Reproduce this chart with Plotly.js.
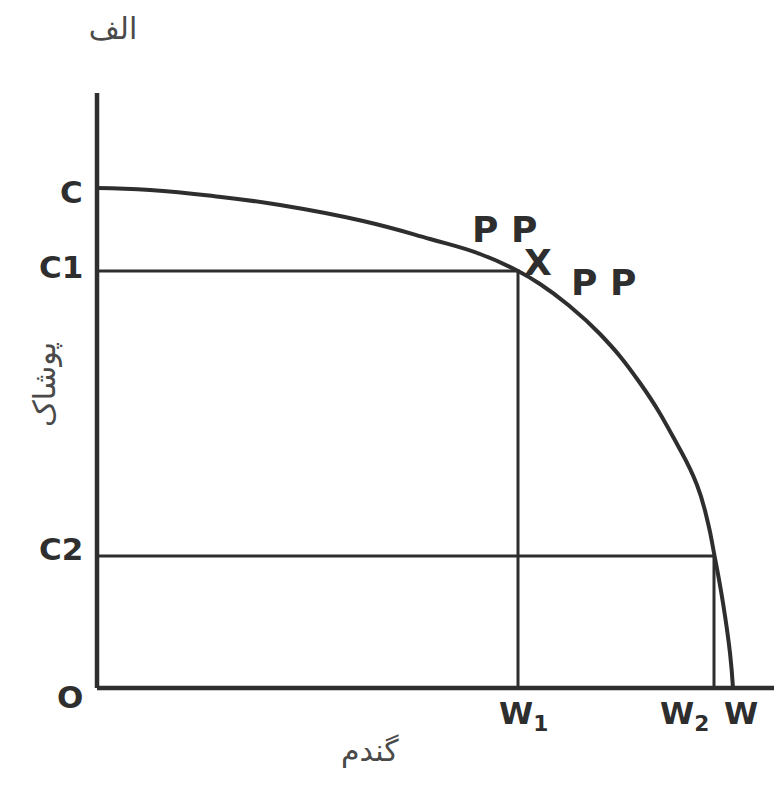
<!DOCTYPE html>
<html>
<head>
<meta charset="utf-8">
<script src="https://cdn.plot.ly/plotly-3.0.1.min.js"></script>
<style>html,body{margin:0;padding:0;background:#fff;}#chart{width:774px;height:786px;}</style>
</head>
<body>
<div id="chart"></div>
<script>
// Production possibility frontier (wheat on x, clothing on y)
const curveX = [0, 53, 116, 183, 266, 333, 383, 421, 443, 470, 503, 543, 580, 600, 611, 617, 626, 633, 636];
const curveY = [500, 498, 492, 483, 467, 449, 434, 417, 404, 384, 354, 305, 244, 203, 165, 135, 85, 35, 0];

const yTickVals = [500, 417, 132, 0];
const yTickLabels = ['C', 'C1', 'C2', 'O'];
const yTickShift = [-4, 4, 7, -9];
const xTickVals = [421, 617, 636];
const xTickLabels = ['W<sub>1</sub>', 'W<sub>2</sub>', 'W'];
const xTickShift = [-21, -56, -11];

const point1 = {x: 421, y: 417};   // (W1, C1)
const point2 = {x: 617, y: 132};   // (W2, C2)
const axisXMax = 677, axisYMax = 595;

const ppLabels = ['P P', 'X', 'P P'];
const ppX = [407, 441, 506];
const ppY = [459, 426, 406];

const titleText = 'الف';
const xTitle = 'گندم';
const yTitle = 'پوشاک';

const ink = '#2e2e2e';
const traces = [
  // axes
  {x: [0, 0], y: [axisYMax, 0], mode: 'lines', line: {color: ink, width: 4.5}, hoverinfo: 'skip'},
  {x: [0, axisXMax], y: [0, 0], mode: 'lines', line: {color: ink, width: 4.5}, hoverinfo: 'skip'},
  // guide lines
  {x: [0, point1.x, point1.x], y: [point1.y, point1.y, 0], mode: 'lines', line: {color: ink, width: 3}, hoverinfo: 'skip'},
  {x: [0, point2.x, point2.x], y: [point2.y, point2.y, 0], mode: 'lines', line: {color: ink, width: 3}, hoverinfo: 'skip'},
  // frontier
  {x: curveX, y: curveY, mode: 'lines', line: {color: ink, width: 4, shape: 'spline', smoothing: 1.3}, hoverinfo: 'skip'}
];

const lblFont = {family: 'DejaVu Sans, sans-serif', size: 31, color: ink, weight: 'bold'};
const ppFont = {family: 'DejaVu Sans, sans-serif', size: 36, color: ink, weight: 'bold'};
const annotations = [];
yTickVals.forEach((v, i) => annotations.push({
  x: 0, y: v, xref: 'x', yref: 'y', text: '<b>' + yTickLabels[i] + '</b>', showarrow: false,
  xanchor: 'right', yanchor: 'middle', xshift: -12, yshift: yTickShift[i], font: lblFont
}));
xTickVals.forEach((v, i) => annotations.push({
  x: v, y: 0, xref: 'x', yref: 'y', text: '<b>' + xTickLabels[i] + '</b>', showarrow: false,
  xanchor: 'left', yanchor: 'top', yshift: -5, xshift: xTickShift[i], font: lblFont
}));
ppLabels.forEach((t, i) => annotations.push({
  x: ppX[i], y: ppY[i], xref: 'x', yref: 'y', text: '<b>' + t + '</b>', showarrow: false,
  xanchor: 'center', yanchor: 'middle', font: ppFont
}));
const arFont = {family: 'DejaVu Sans, sans-serif', size: 30, color: '#4a4a4a'};
// plot area spans x 87..774 and y 93..698 px
annotations.push({x: (370 - 87) / 687, y: (698 - 750) / 605, xref: 'paper', yref: 'paper', text: xTitle,
  showarrow: false, xanchor: 'center', yanchor: 'middle', font: arFont});
annotations.push({x: (45 - 87) / 687, y: (698 - 385) / 605, xref: 'paper', yref: 'paper', text: yTitle,
  showarrow: false, textangle: -90, xanchor: 'center', yanchor: 'middle', font: arFont});

const layout = {
  width: 774, height: 786,
  margin: {l: 87, r: 0, t: 93, b: 88},
  paper_bgcolor: '#fff', plot_bgcolor: '#fff',
  showlegend: false,
  title: {text: titleText, x: 113 / 774, xanchor: 'center', y: 1 - 28 / 786, yanchor: 'middle', font: arFont},
  xaxis: {range: [-10, axisXMax], visible: false, fixedrange: true},
  yaxis: {range: [-10, axisYMax], visible: false, fixedrange: true},
  annotations: annotations
};

Plotly.newPlot('chart', traces, layout, {displayModeBar: false, staticPlot: true});
</script>
</body>
</html>
